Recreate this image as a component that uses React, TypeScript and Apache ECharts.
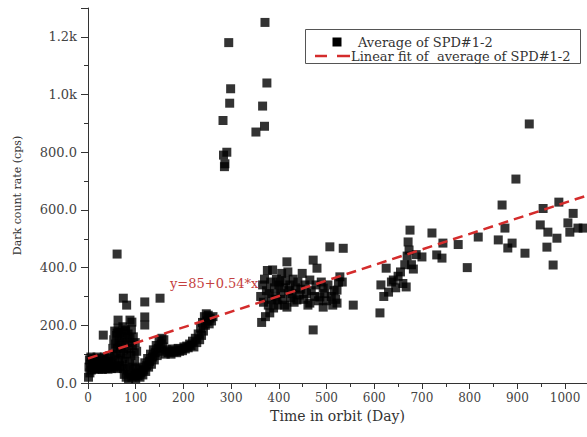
import React, { useEffect, useRef } from "react";
import * as echarts from "echarts";

// Averaged dark count rate of SPD#1-2, [day in orbit, cps]
const launchPhase: [number, number][] = [
  [1, 20], [2, 55], [3, 80], [4, 35], [5, 65], [6, 90], [7, 45], [9, 70], [10, 55], [12, 85],
  [13, 48], [15, 65], [16, 78], [18, 50], [19, 90], [21, 60], [22, 48], [24, 75], [25, 85],
  [27, 52], [28, 65], [30, 47], [31, 80], [33, 58], [34, 90], [36, 50], [37, 70], [39, 62],
  [40, 85], [42, 48], [43, 75], [45, 55], [46, 95], [48, 65], [49, 50],
];

const earlySpike: [number, number][] = [
  [51, 70], [52, 120], [53, 55], [54, 150], [55, 90], [56, 180], [57, 60], [58, 135], [59, 100],
  [60, 165], [61, 50], [62, 120], [63, 190], [64, 80], [65, 145], [66, 60], [67, 175], [68, 105],
  [69, 55], [70, 130], [71, 160], [72, 85], [73, 195], [74, 50], [75, 115], [76, 30], [77, 150],
  [78, 75], [79, 180], [80, 20], [81, 100], [82, 140], [83, 45], [84, 170], [85, 15], [86, 120],
  [87, 65], [88, 155], [89, 35], [90, 95], [91, 185], [92, 20], [93, 130], [94, 55], [95, 160],
  [96, 25], [97, 105], [98, 75], [99, 140], [100, 15], [101, 50], [102, 110], [103, 30],
  [61, 447], [74, 294], [81, 270], [63, 218], [88, 218], [32, 166], [61, 173], [78, 184],
  [92, 211], [119, 281], [151, 294], [119, 229], [119, 201],
];

const recoveryPhase: [number, number][] = [
  [105, 25], [107, 45], [109, 20], [111, 35], [113, 55], [115, 28], [117, 45], [119, 70],
  [121, 40], [123, 60], [125, 85], [127, 55], [129, 75], [131, 100], [133, 65], [135, 90],
  [137, 115], [139, 80], [141, 105], [143, 130], [145, 95], [147, 120], [149, 145], [151, 110],
  [153, 135], [155, 155], [157, 125], [159, 150],
  [162, 100], [165, 115], [168, 105], [171, 110], [174, 100], [177, 118], [180, 108], [183, 112],
  [186, 105], [189, 120], [192, 110], [195, 118], [198, 112], [201, 125], [204, 118], [207, 128],
  [210, 122], [213, 135],
  [216, 130], [219, 145], [222, 125], [225, 155], [228, 140], [231, 170], [234, 150], [236, 190],
  [238, 165], [240, 210], [242, 180], [244, 230], [246, 200], [248, 240], [250, 215], [252, 235],
  [254, 205], [256, 225], [259, 215], [262, 230],
];

const anomalyPhase: [number, number][] = [
  [283, 910], [284, 790], [286, 750], [287, 760], [291, 800], [295, 1180], [297, 970],
  [299, 1020], [352, 870], [366, 960], [370, 890], [371, 1250], [375, 1040],
];

const midPhase: [number, number][] = [
  [362, 300], [364, 210], [366, 340], [368, 280], [370, 360], [372, 230], [374, 320], [376, 390],
  [378, 270], [380, 310], [381, 243], [383, 350], [385, 290], [387, 392], [389, 260], [391, 330],
  [393, 300], [395, 360], [396, 288], [398, 270], [400, 340], [402, 350], [404, 310], [406, 380],
  [408, 290], [410, 330], [412, 270], [414, 355], [417, 420], [417, 263], [419, 385], [421, 320],
  [423, 340], [425, 295], [428, 310], [430, 360], [432, 280], [435, 330], [438, 288], [440, 350],
  [443, 305], [446, 325], [449, 380], [452, 290], [455, 340], [458, 310], [461, 270], [465, 357],
  [465, 277], [468, 320], [472, 426], [472, 184], [475, 300], [478, 340], [480, 398], [483, 285],
  [486, 298], [489, 350], [493, 329], [493, 263], [496, 310], [500, 285], [503, 340], [507, 472],
  [510, 300], [513, 270], [516, 320], [519, 290], [522, 322], [522, 277], [525, 350], [528, 368],
  [533, 350], [535, 467], [556, 270],
];

const latePhase: [number, number][] = [
  [612, 243], [614, 340], [620, 300], [625, 398], [630, 315], [636, 350], [640, 357], [645, 330],
  [650, 370], [655, 385], [660, 345], [664, 410], [667, 333], [669, 440], [671, 489], [673, 461],
  [675, 530], [678, 410], [682, 395], [688, 445], [700, 437], [721, 520], [731, 444], [742, 433],
  [744, 485], [776, 480], [795, 400],
  [818, 506], [860, 496], [868, 617], [874, 537], [880, 468], [889, 485], [897, 707], [916, 450],
  [925, 898], [948, 548], [954, 605], [962, 471], [964, 523], [975, 409], [983, 502], [987, 627],
  [1006, 555], [1010, 523], [1017, 588], [1027, 537], [1038, 537],
];

// Linear fit y = 85 + 0.54 * x
const fitIntercept = 85;
const fitSlope = 0.54;
const dayMax = 1046;
const rateMax = 1300;

const scatterName = "Average of SPD#1-2";
const fitName = "Linear fit of  average of SPD#1-2";
const fitLabel = `y=${fitIntercept}+${fitSlope}*x`;

const serif = "DejaVu Serif";

export default function App() {
  const ref = useRef<HTMLDivElement>(null);

  useEffect(() => {
    if (!ref.current) return;
    const chart = echarts.init(ref.current, undefined, { renderer: "svg" });
    const points = [
      ...launchPhase,
      ...earlySpike,
      ...recoveryPhase,
      ...anomalyPhase,
      ...midPhase,
      ...latePhase,
    ];
    const fitLine = [
      [0, fitIntercept],
      [dayMax, fitIntercept + fitSlope * dayMax],
    ];

    chart.setOption({
      animation: false,
      backgroundColor: "#fff",
      grid: { left: 88, right: 0, top: 8, bottom: 54 },
      xAxis: {
        type: "value",
        min: 0,
        max: dayMax,
        interval: 100,
        name: "Time in orbit (Day)",
        nameLocation: "middle",
        nameGap: 24,
        nameTextStyle: { fontFamily: serif, fontSize: 14, color: "#333" },
        axisLine: { show: true, lineStyle: { color: "#333", width: 1 } },
        axisTick: { show: true, length: 6, lineStyle: { color: "#333" } },
        minorTick: { show: true, splitNumber: 2, length: 4, lineStyle: { color: "#333" } },
        splitLine: { show: false },
        minorSplitLine: { show: false },
        axisLabel: {
          fontFamily: serif,
          fontSize: 12,
          color: "#444",
          margin: 9,
          showMaxLabel: false,
          formatter: (v: number) => (v % 100 === 0 ? String(v) : ""),
        },
      },
      yAxis: {
        type: "value",
        min: 0,
        max: rateMax,
        interval: 200,
        name: "Dark count rate (cps)",
        nameLocation: "middle",
        nameGap: 65,
        nameTextStyle: { fontFamily: serif, fontSize: 11, color: "#333" },
        axisLine: { show: true, lineStyle: { color: "#333", width: 1 } },
        axisTick: { show: true, length: 7, lineStyle: { color: "#333" } },
        minorTick: { show: true, splitNumber: 2, length: 4, lineStyle: { color: "#333" } },
        splitLine: { show: false },
        minorSplitLine: { show: false },
        axisLabel: {
          fontFamily: serif,
          fontSize: 13,
          color: "#444",
          margin: 11,
          showMaxLabel: false,
          formatter: (v: number) => {
            if (v % 200 !== 0) return "";
            return v >= 1000 ? (v / 1000).toFixed(1) + "k" : v.toFixed(1);
          },
        },
      },
      series: [
        {
          name: scatterName,
          type: "scatter",
          data: points,
          symbol: "rect",
          symbolSize: 9,
          itemStyle: { color: "#000" },
          z: 2,
        },
        {
          name: fitName,
          type: "line",
          data: fitLine,
          showSymbol: false,
          symbol: "none",
          lineStyle: { color: "#d42c2c", width: 2.5, type: [10, 6] },
          z: 3,
        },
      ],
      graphic: [
        {
          type: "rect",
          shape: { x: 305.5, y: 29.5, width: 275, height: 34 },
          style: { fill: "#fff", stroke: "#555", lineWidth: 1 },
          z: 10,
        },
        {
          type: "rect",
          shape: { x: 332.5, y: 37.5, width: 9, height: 9 },
          style: { fill: "#000" },
          z: 11,
        },
        {
          type: "line",
          shape: { x1: 315, y1: 56, x2: 327, y2: 56 },
          style: { stroke: "#d42c2c", lineWidth: 2.5 },
          z: 11,
        },
        {
          type: "line",
          shape: { x1: 337, y1: 56, x2: 350, y2: 56 },
          style: { stroke: "#d42c2c", lineWidth: 2.5 },
          z: 11,
        },
        {
          type: "text",
          x: 358,
          y: 42,
          style: {
            text: scatterName,
            font: `13px '${serif}'`,
            fill: "#333",
            verticalAlign: "middle",
          },
          z: 11,
        },
        {
          type: "text",
          x: 351,
          y: 56,
          style: {
            text: fitName,
            font: `13px '${serif}'`,
            fill: "#333",
            verticalAlign: "middle",
          },
          z: 11,
        },
        {
          type: "text",
          x: 170,
          y: 283,
          style: {
            text: fitLabel,
            font: `13px '${serif}'`,
            fill: "#c44040",
            verticalAlign: "middle",
          },
          z: 11,
        },
      ],
    });

    return () => chart.dispose();
  }, []);

  return (
    <div
      ref={ref}
      style={{ position: "fixed", left: 0, top: 0, width: 587, height: 437 }}
    />
  );
}
